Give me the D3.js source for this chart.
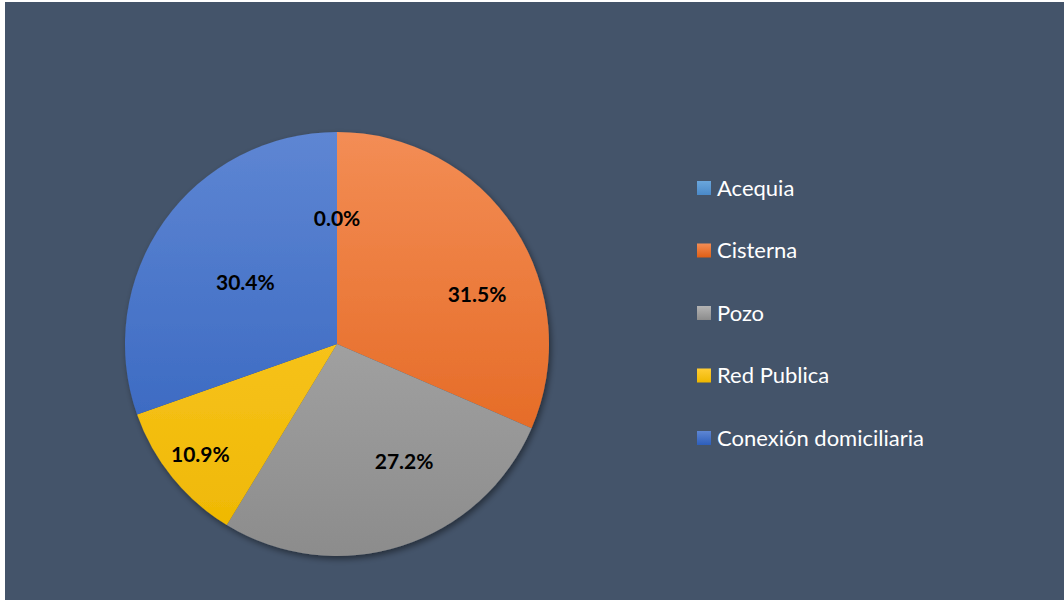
<!DOCTYPE html>
<html lang="es">
<head>
<meta charset="UTF-8">
<title>Pie</title>
<script src="https://d3js.org/d3.v7.min.js"></script>
<style>
  html, body { margin: 0; padding: 0; background: #fff; }
  svg { display: block; }
</style>
</head>
<body>
<script>
  // data
  const categories = ["Acequia", "Cisterna", "Pozo", "Red Publica", "Conexión domiciliaria"];
  const values = [0.0, 31.5, 27.2, 10.9, 30.4];
  const colorsTop = ["#6aa6dc", "#f38d55", "#b4b4b4", "#ffcd35", "#5e86d3"];
  const colorsBottom = ["#4a89c8", "#e05e14", "#8c8c8c", "#eeb700", "#2d5ebb"];
  // label placement (Excel "best fit"): fraction of radius, angle shift in degrees
  const labelRadius = [0.59, 0.70, 0.64, 0.83, 0.52];
  const labelShift = [0, 14, -12, 0, -1.5];

  const width = 1064, height = 600;
  const cx = 337, cy = 344, r = 212;

  const svg = d3.select("body").append("svg")
    .attr("width", width).attr("height", height);

  svg.append("rect")
    .attr("x", 5).attr("y", 2)
    .attr("width", width - 5).attr("height", height - 2)
    .attr("fill", "#44546a");

  const defs = svg.append("defs");
  defs.append("filter").attr("id", "shadow")
    .attr("x", "-20%").attr("y", "-20%").attr("width", "140%").attr("height", "140%")
    .append("feDropShadow")
    .attr("dx", 2).attr("dy", 3).attr("stdDeviation", 3)
    .attr("flood-color", "#000").attr("flood-opacity", 0.45);

  categories.forEach((c, i) => {
    // pie gradient spans the whole pie, top to bottom
    const g = defs.append("linearGradient")
      .attr("id", "grad" + i)
      .attr("gradientUnits", "userSpaceOnUse")
      .attr("x1", 0).attr("y1", -r).attr("x2", 0).attr("y2", r);
    g.append("stop").attr("offset", "0%").attr("stop-color", colorsTop[i]);
    g.append("stop").attr("offset", "100%").attr("stop-color", colorsBottom[i]);

    const lg = defs.append("linearGradient")
      .attr("id", "lgrad" + i)
      .attr("x1", 0).attr("y1", 0).attr("x2", 0).attr("y2", 1);
    lg.append("stop").attr("offset", "0%").attr("stop-color", colorsTop[i]);
    lg.append("stop").attr("offset", "100%").attr("stop-color", colorsBottom[i]);
  });

  const pie = d3.pie().sort(null).value(d => d);
  const arcs = pie(values);
  const arc = d3.arc().innerRadius(0).outerRadius(r);

  const chart = svg.append("g").attr("transform", `translate(${cx},${cy})`);

  chart.append("g").attr("filter", "url(#shadow)")
    .selectAll("path")
    .data(arcs)
    .enter()
    .append("path")
    .attr("d", arc)
    .attr("fill", (d, i) => `url(#grad${i})`);

  chart.selectAll(".lbl")
    .data(arcs)
    .enter()
    .append("text")
    .attr("class", "lbl")
    .attr("transform", (d, i) => {
      const a = (d.startAngle + d.endAngle) / 2 + labelShift[i] * Math.PI / 180;
      const lr = r * labelRadius[i];
      return `translate(${lr * Math.sin(a)},${-lr * Math.cos(a)})`;
    })
    .attr("text-anchor", "middle")
    .attr("dy", "0.35em")
    .style("font-family", "Lato, 'Open Sans', sans-serif")
    .style("font-weight", "bold")
    .style("font-size", "21px")
    .attr("fill", "#000")
    .text(d => d.data.toFixed(1) + "%");

  // legend
  const legendY = d3.scalePoint().domain(categories).range([188, 438]);
  const legend = svg.append("g").selectAll("g")
    .data(categories)
    .enter()
    .append("g")
    .attr("transform", d => `translate(697,${legendY(d)})`);

  legend.append("rect")
    .attr("x", 0).attr("y", -7)
    .attr("width", 14).attr("height", 14)
    .attr("fill", (d, i) => `url(#lgrad${i})`);

  legend.append("text")
    .attr("x", 20).attr("dy", "0.35em")
    .style("font-family", "Lato, 'Open Sans', sans-serif")
    .style("font-size", "22px")
    .attr("fill", "#ffffff")
    .text(d => d);
</script>
</body>
</html>
